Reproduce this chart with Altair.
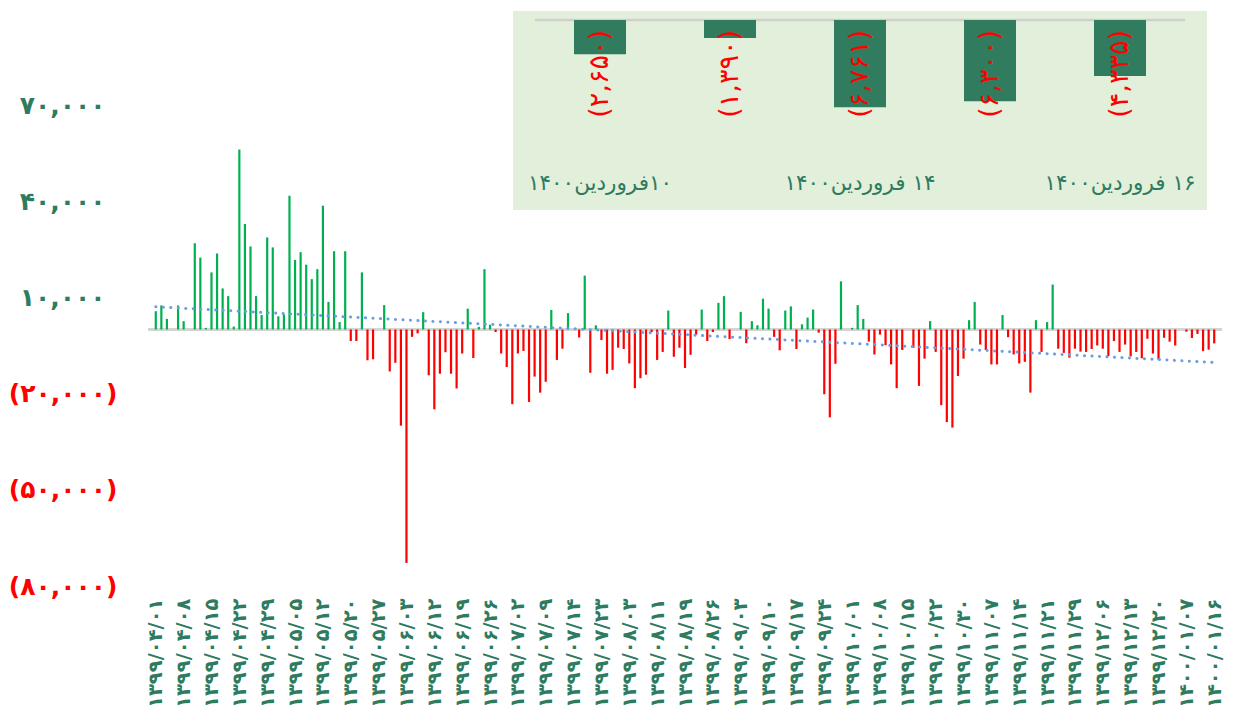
import altair as alt
import pandas as pd

# ---------------- data ----------------
values_k = [
    5.7, 7.5, 3.3, 0, 7.5, 2.6, 0, 26.9, 22.4, 0.5,
    17.8, 23.7, 12.8, 10.4, 0.9, 56.1, 32.9, 25.9, 10.4, 4.5,
    28.7, 25.6, 4.1, 4.7, 41.7, 21.7, 24.1, 20.2, 15.7, 18.8,
    38.6, 8.6, 24.4, 2.3, 24.4, -3.6, -3.6, 17.8, -9.6, -9.3,
    0, 7.6, -13.1, -10.4, -30.0, -72.8, -2.3, -1.2, 5.4, -14.3,
    -24.9, -13.8, -7.1, -13.8, -18.4, -7.5, 6.5, -8.9, 0.8, 18.8,
    1.5, -0.8, -7.5, -11.7, -23.3, -7.5, -6.7, -22.6, -14.7, -19.7,
    -16.3, 6.1, -9.5, -6.0, 5.1, 0, -2.5, 16.8, -13.5, 1.3,
    -3.3, -13.8, -12.6, -5.7, -6.1, -10.6, -18.3, -15.2, -14.1, -0.8,
    -9.5, -7.0, 5.9, -8.5, -5.7, -12.0, -7.9, -1.6, 6.2, -3.6,
    -0.8, 8.3, 10.4, -3.0, 0, 5.5, -4.3, 2.6, 1.3, 9.6,
    6.5, -2.3, -6.5, 5.9, 7.2, -6.1, 1.6, 3.7, 6.2, -1.0,
    -20.2, -27.4, -10.7, 15.0, 0, 0.5, 7.6, 3.3, -3.8, -7.8,
    -1.6, -4.9, -10.9, -18.3, -6.4, 0, -5.7, -17.6, -9.1, 2.6,
    -7.0, -23.6, -28.9, -30.6, -14.5, -9.1, 2.9, 8.6, -4.7, -6.4,
    -10.9, -10.9, 4.5, -2.4, -7.8, -10.6, -10.1, -19.7, 2.9, -7.0,
    2.3, 14.0, -6.0, -7.3, -8.8, -6.0, -6.9, -7.0, -6.1, -5.0,
    -6.0, -8.3, -3.6, -7.0, -4.7, -8.4, -7.0, -9.0, -2.9, -7.5,
    -9.4, -2.6, -3.8, -5.0, 0, -0.7, -2.65, -1.39, -6.76, -6.3,
    -4.34,
]

x_labels = [
    "۱۳۹۹/۰۴/۰۱", "۱۳۹۹/۰۴/۰۸", "۱۳۹۹/۰۴/۱۵", "۱۳۹۹/۰۴/۲۲", "۱۳۹۹/۰۴/۲۹",
    "۱۳۹۹/۰۵/۰۵", "۱۳۹۹/۰۵/۱۲", "۱۳۹۹/۰۵/۲۰", "۱۳۹۹/۰۵/۲۷", "۱۳۹۹/۰۶/۰۳",
    "۱۳۹۹/۰۶/۱۲", "۱۳۹۹/۰۶/۱۹", "۱۳۹۹/۰۶/۲۶", "۱۳۹۹/۰۷/۰۲", "۱۳۹۹/۰۷/۰۹",
    "۱۳۹۹/۰۷/۱۴", "۱۳۹۹/۰۷/۲۳", "۱۳۹۹/۰۸/۰۳", "۱۳۹۹/۰۸/۱۱", "۱۳۹۹/۰۸/۱۹",
    "۱۳۹۹/۰۸/۲۶", "۱۳۹۹/۰۹/۰۳", "۱۳۹۹/۰۹/۱۰", "۱۳۹۹/۰۹/۱۷", "۱۳۹۹/۰۹/۲۴",
    "۱۳۹۹/۱۰/۰۱", "۱۳۹۹/۱۰/۰۸", "۱۳۹۹/۱۰/۱۵", "۱۳۹۹/۱۰/۲۲", "۱۳۹۹/۱۰/۳۰",
    "۱۳۹۹/۱۱/۰۷", "۱۳۹۹/۱۱/۱۴", "۱۳۹۹/۱۱/۲۱", "۱۳۹۹/۱۱/۲۹", "۱۳۹۹/۱۲/۰۶",
    "۱۳۹۹/۱۲/۱۳", "۱۳۹۹/۱۲/۲۰", "۱۴۰۰/۰۱/۰۷", "۱۴۰۰/۰۱/۱۶",
]
label_step = 5

y_ticks = [70000, 40000, 10000, -20000, -50000, -80000]
y_tick_labels = ["۷۰,۰۰۰", "۴۰,۰۰۰", "۱۰,۰۰۰", "(۲۰,۰۰۰)", "(۵۰,۰۰۰)", "(۸۰,۰۰۰)"]

inset_values = [-2650, -1390, -6761, -6300, -4335]
inset_value_labels = ["(۲,۶۵۰)", "(۱,۳۹۰)", "(۶,۷۶۱)", "(۶,۳۰۰)", "(۴,۳۳۵)"]
inset_axis_labels = ["۱۰فروردین۱۴۰۰", "", "۱۴ فروردین۱۴۰۰", "", "۱۶ فروردین۱۴۰۰"]

# ---------------- styling ----------------
GREEN = "#00b050"
RED = "#ff0000"
TEAL = "#2e7b5f"
FONT = "DejaVu Sans"
W, H = 1074, 575

main_df = pd.DataFrame({
    "i": list(range(len(values_k))),
    "value": [v * 1000 for v in values_k],
})

x_expr = "[" + ",".join("'%s'" % s for s in x_labels) + "][datum.value / %d]" % label_step
y_expr = ""
for v, s in zip(y_ticks, y_tick_labels):
    y_expr += "datum.value == %d ? '%s' : " % (v, s)
y_expr += "''"

x_scale = alt.Scale(domain=[-0.5, len(values_k) - 0.5], nice=False, zero=False)
y_scale = alt.Scale(domain=[-80000, 99314], nice=False, zero=False)

x_axis = alt.Axis(
    values=list(range(0, len(values_k), label_step)),
    labelExpr=x_expr,
    labelAngle=270,
    labelAlign="right",
    labelBaseline="middle",
    labelFont=FONT,
    labelFontSize=19.5,
    labelFontWeight="bold",
    labelColor=TEAL,
    labelPadding=12,
    labelOverlap=False,
    labelBound=False,
    labelFlush=False,
    ticks=False,
    domain=False,
    grid=False,
    title=None,
)
y_axis = alt.Axis(
    values=y_ticks,
    labelExpr=y_expr,
    labelFont=FONT,
    labelFontSize=25,
    labelFontWeight="bold",
    labelColor=alt.condition("datum.value < 0", alt.value(RED), alt.value(TEAL)),
    labelPadding=alt.condition("datum.value < 0", alt.value(31), alt.value(43)),
    labelOverlap=False,
    labelBound=False,
    labelFlush=False,
    ticks=False,
    domain=False,
    grid=False,
    title=None,
)

base = alt.Chart(main_df)

zero_line = base.mark_rule(color="#d4d4d4", strokeWidth=2.5).encode(
    y=alt.Y(datum=0, scale=y_scale, axis=y_axis)
)

bars = base.mark_bar(size=2.2).encode(
    x=alt.X("i:Q", scale=x_scale, axis=x_axis),
    y=alt.Y("value:Q", scale=y_scale, axis=y_axis),
    y2=alt.datum(0),
    color=alt.condition("datum.value >= 0", alt.value(GREEN), alt.value(RED)),
)

trend = base.transform_regression("i", "value").mark_line(
    color="#6a9ee0", strokeWidth=3, strokeDash=[0.1, 7.4], strokeCap="round"
).encode(
    x=alt.X("i:Q", scale=x_scale, axis=x_axis),
    y=alt.Y("value:Q", scale=y_scale, axis=y_axis),
)

main_layer = alt.layer(zero_line, bars, trend)

# ---------------- inset ----------------
inset_df = pd.DataFrame({
    "k": list(range(len(inset_values))),
    "v": inset_values,
    "lab": inset_value_labels,
    "day": ["\u202b" + s + "\u202c" if s else "" for s in inset_axis_labels],
})
ix_scale = alt.Scale(domain=list(range(len(inset_values))), range=[387, 1037],
                     paddingInner=0.6, paddingOuter=0.3)
iy_scale = alt.Scale(domain=[0, -8000], range=[9, 112.2], nice=False, zero=False)

box = alt.Chart(pd.DataFrame({"a": [0]})).mark_rect(color="#e2efda").encode(
    x=alt.value(365), x2=alt.value(1059), y=alt.value(0), y2=alt.value(199)
)
ibase = alt.Chart(inset_df)
iline = alt.Chart(pd.DataFrame({"a": [0]})).mark_rule(color="#d0d0d0", strokeWidth=2.5).encode(
    x=alt.value(387), x2=alt.value(1037), y=alt.Y(datum=0, scale=iy_scale, axis=None)
)
ibars = ibase.mark_bar(color="#317b5f").encode(
    x=alt.X("k:O", scale=ix_scale, axis=None),
    y=alt.Y("v:Q", scale=iy_scale, axis=None),
    y2=alt.datum(0),
)
ilabels = ibase.mark_text(
    angle=270, align="right", baseline="middle", dx=-10, color=RED,
    font=FONT, fontSize=27
).encode(
    x=alt.X("k:O", scale=ix_scale, axis=None),
    y=alt.datum(0),
    text="lab:N",
)
idays = ibase.mark_text(
    align="center", baseline="middle", color=TEAL, font=FONT, fontSize=21.5
).encode(
    x=alt.X("k:O", scale=ix_scale, axis=None),
    y=alt.value(173),
    text="day:N",
)
inset_layer = alt.layer(box, iline, ibars, ilabels, idays)

chart = alt.layer(main_layer, inset_layer).resolve_scale(
    x="independent", y="independent"
).properties(
    width=W, height=H,
    padding={"left": 140, "top": 3, "right": 6, "bottom": 126},
    autosize=alt.AutoSizeParams(type="none"),
    background="white",
).configure_view(stroke=None)

chart.save("out.html", embed_options={"renderer": "svg", "actions": False})
